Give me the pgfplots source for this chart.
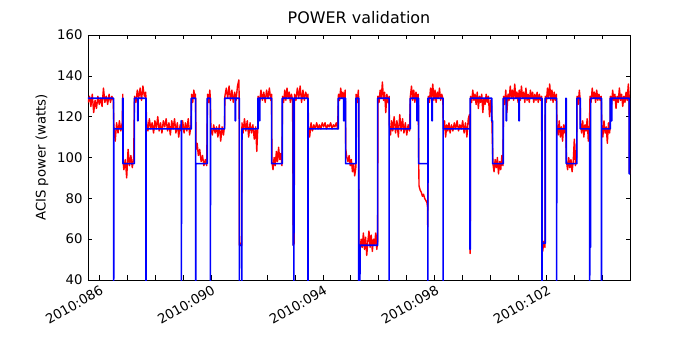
\documentclass[border=0pt]{standalone}
\usepackage{fontspec}
\setmainfont{DejaVu Sans}
\usepackage{pgfplots}
\pgfplotsset{compat=1.18}
\begin{document}
\begin{tikzpicture}
\path[use as bounding box] (-88bp,-70bp) rectangle (612bp,280bp);
\begin{axis}[
    at={(0,0)}, anchor=south west,
    scale only axis,
    width=542bp, height=245bp,
    xmin=85.607, xmax=104.98,
    ymin=40, ymax=160,
    ytick={40,60,...,160},
    xtick={86,90,...,102},
    minor xtick={87,88,89,91,92,93,95,96,97,99,100,101,103,104},
    xticklabels={2010:086,2010:090,2010:094,2010:098,2010:102},
    tick align=inside,
    major tick length=4.5bp,
    minor tick length=4.5bp,
    every tick/.style={black, line width=0.6bp},
    axis line style={line width=0.9bp},
    /pgf/number format/assume math mode=true,
    tick label style={font=\fontsize{13.3}{16}\selectfont},
    xticklabel style={rotate=30, anchor=north east, inner sep=1bp, yshift=-3bp, xshift=-1bp},
    yticklabel style={xshift=-2bp},
    title={POWER validation},
    title style={at={(axis description cs:0.5,1.0245)}, anchor=base, font=\fontsize{16}{19}\selectfont},
    ylabel={ACIS power (watts)},
    ylabel style={at={(axis description cs:-0.085,0.5)}, rotate=0, anchor=center, font=\fontsize{13.3}{16}\selectfont},
]
% measured power
\addplot[red, line width=1.4bp, line join=round] coordinates {
(85.61,127) (85.66,130) (85.71,125) (85.76,131) (85.81,122) (85.86,128) (85.91,124) (85.96,130) (86.01,126) (86.06,129)
(86.11,125) (86.16,134) (86.21,127) (86.26,130) (86.31,126) (86.36,131) (86.41,127) (86.46,130) (86.51,128)
(86.53,116) (86.58,108) (86.63,117) (86.68,112) (86.73,118) (86.78,113) (86.83,117) (86.85,131) (86.86,98)
(86.89,94) (86.94,99) (86.99,90) (87.04,104) (87.09,96) (87.14,101) (87.19,95) (87.24,100)
(87.27,130) (87.32,127) (87.37,133) (87.42,129) (87.47,134) (87.52,128) (87.57,135) (87.62,130) (87.67,132)
(87.70,118) (87.75,113) (87.80,119) (87.85,114) (87.90,117) (87.95,112) (88.00,118) (88.05,114) (88.10,120) (88.15,113)
(88.20,117) (88.25,112) (88.30,118) (88.35,115) (88.40,119) (88.45,113) (88.50,117) (88.55,111) (88.60,118) (88.65,114)
(88.70,119) (88.75,112) (88.80,117) (88.85,110) (88.90,116) (88.94,113) (88.99,118) (89.04,112) (89.09,117) (89.14,113)
(89.19,119) (89.24,111) (89.29,116)
(89.31,131) (89.35,127) (89.39,133) (89.43,129) (89.45,131)
(89.47,104) (89.51,107) (89.55,101) (89.60,104) (89.65,98) (89.70,101) (89.75,96) (89.80,99) (89.85,96)
(89.88,131) (89.92,127) (89.96,133) (89.98,129)
(90.00,114) (90.05,111) (90.10,116) (90.15,112) (90.20,115) (90.25,110) (90.30,116) (90.35,108) (90.40,115) (90.45,111) (90.49,116)
(90.50,130) (90.55,134) (90.60,129) (90.65,135) (90.70,128) (90.75,133) (90.80,127) (90.85,132) (90.90,128) (90.95,135) (91.00,138) (91.01,129)
(91.02,57) (91.07,58) (91.10,57)
(91.11,117) (91.15,112) (91.20,119) (91.25,113) (91.30,118) (91.35,110) (91.40,117) (91.45,112) (91.50,116) (91.55,109) (91.60,115) (91.64,103) (91.68,116)
(91.69,130) (91.74,127) (91.79,133) (91.84,128) (91.89,132) (91.94,127) (91.99,133) (92.04,129) (92.09,134) (92.14,128) (92.17,131)
(92.18,98) (92.22,94) (92.26,100) (92.30,96) (92.34,103) (92.38,98) (92.42,105) (92.46,99) (92.50,102) (92.54,96)
(92.56,130) (92.60,127) (92.64,133) (92.68,128) (92.72,134) (92.76,129) (92.80,132) (92.84,127) (92.88,131) (92.92,128)
(92.945,57) (92.975,58)
(92.99,131) (93.04,128) (93.09,134) (93.14,129) (93.19,135) (93.24,127) (93.29,133) (93.34,128) (93.39,132) (93.44,129) (93.47,131)
(93.49,115) (93.53,110) (93.58,117) (93.63,113) (93.68,116) (93.73,114) (93.78,117) (93.83,114) (93.88,116) (93.93,114)
(93.98,117) (94.03,115) (94.08,117) (94.13,114) (94.18,116) (94.23,115) (94.28,117) (94.33,114) (94.38,116) (94.43,115) (94.48,117) (94.53,114)
(94.56,131) (94.60,128) (94.64,134) (94.68,129) (94.72,132) (94.76,128) (94.80,133)
(94.82,104) (94.86,100) (94.90,98) (94.94,101) (94.98,96) (95.02,99) (95.06,93) (95.10,97) (95.14,91) (95.18,95)
(95.19,131) (95.23,127) (95.27,133) (95.28,129)
(95.29,58) (95.33,54) (95.37,60) (95.41,56) (95.45,63) (95.49,55) (95.53,61) (95.57,52) (95.61,59) (95.65,64)
(95.69,56) (95.73,62) (95.77,54) (95.81,60) (95.85,57) (95.89,63) (95.93,55) (95.96,59)
(95.97,130) (96.01,127) (96.05,133) (96.09,129) (96.13,137) (96.17,128) (96.21,132) (96.25,122) (96.29,131) (96.33,127) (96.37,130)
(96.38,116) (96.42,111) (96.46,118) (96.50,113) (96.55,120) (96.60,112) (96.65,118) (96.70,110) (96.75,121) (96.80,113)
(96.85,119) (96.90,112) (96.95,117) (97.00,111) (97.05,116) (97.10,113)
(97.13,130) (97.17,135) (97.21,128) (97.25,133) (97.29,127) (97.33,132) (97.37,129) (97.41,131)
(97.43,95) (97.44,86) (97.48,84) (97.52,83) (97.56,81) (97.60,82) (97.64,80) (97.68,79) (97.72,78) (97.74,76) (97.75,66)
(97.77,130) (97.81,127) (97.85,134) (97.89,129) (97.93,136) (97.97,128) (98.01,133) (98.05,127) (98.09,132) (98.13,129)
(98.17,134) (98.21,128) (98.25,131) (98.29,129)
(98.31,114) (98.35,118) (98.39,110) (98.43,116) (98.47,113) (98.51,117) (98.55,112) (98.60,116) (98.65,113) (98.70,117)
(98.75,114) (98.80,118) (98.85,113) (98.90,116) (98.95,114) (99.00,118) (99.05,112) (99.10,117) (99.15,110) (99.20,119) (99.24,121) (99.255,114)
(99.26,55) (99.265,53) (99.27,57)
(99.28,130) (99.32,127) (99.36,133) (99.40,128) (99.44,131) (99.48,126) (99.52,132) (99.56,124) (99.60,130) (99.64,127)
(99.68,131) (99.72,122) (99.76,129) (99.80,126) (99.84,131) (99.88,127) (99.92,130) (99.96,120) (100.00,128) (100.03,126)
(100.08,97) (100.12,93) (100.16,99) (100.20,95) (100.24,100) (100.28,92) (100.32,98) (100.36,94) (100.40,101) (100.44,96)
(100.46,130) (100.50,126) (100.54,133) (100.58,122) (100.62,131) (100.66,128) (100.70,135) (100.74,129) (100.78,133) (100.82,128)
(100.86,136) (100.90,129) (100.94,132) (100.98,127) (101.02,133) (101.06,128) (101.10,135) (101.14,129) (101.18,132) (101.22,127)
(101.26,134) (101.30,128) (101.34,131) (101.38,127) (101.42,133) (101.46,129) (101.50,132) (101.54,127) (101.58,131) (101.62,128)
(101.66,132) (101.70,127) (101.74,131) (101.78,128) (101.82,130)
(101.835,60) (101.86,54) (101.90,59) (101.94,56)
(101.95,130) (101.99,127) (102.03,134) (102.07,129) (102.11,136) (102.15,128) (102.19,133) (102.23,127) (102.27,132) (102.31,128) (102.35,131)
(102.37,116) (102.41,111) (102.45,118) (102.49,110) (102.53,115) (102.57,108) (102.61,116) (102.65,112) (102.68,117)
(102.71,98) (102.75,94) (102.79,100) (102.83,95) (102.87,99) (102.91,93) (102.95,98) (102.99,109) (103.03,96) (103.07,100)
(103.09,130) (103.13,126) (103.17,133) (103.20,128)
(103.21,117) (103.25,112) (103.29,118) (103.33,110) (103.37,116) (103.41,113) (103.45,119) (103.49,108) (103.53,115)
(103.55,130) (103.59,127) (103.63,134) (103.67,129) (103.71,132) (103.75,127) (103.79,133) (103.83,128) (103.87,131) (103.91,128) (103.95,130)
(103.97,116) (104.01,110) (104.05,118) (104.09,112) (104.13,115) (104.17,107) (104.21,117) (104.25,112) (104.27,115)
(104.28,130) (104.32,126) (104.36,133) (104.40,128) (104.44,131) (104.48,124) (104.52,130) (104.56,127) (104.60,134) (104.64,128)
(104.68,131) (104.72,125) (104.76,130) (104.80,127) (104.84,132) (104.88,128) (104.92,136) (104.95,130)
(104.955,93) (104.98,92)
};
% model power
\addplot[blue, line width=1.6bp, line join=round] coordinates {
(85.607,129) (86.525,129) (86.525,30) (86.53,114) (86.847,114) (86.847,129) (86.858,129) (86.858,97)
(87.262,97) (87.262,129) (87.383,129) (87.383,118) (87.395,118) (87.395,129) (87.68,129) (87.68,30) (87.685,114)
(88.94,114) (88.94,118) (88.945,118) (88.945,30) (88.95,114) (89.299,114) (89.299,129) (89.456,129) (89.456,30)
(89.461,97) (89.871,97) (89.871,129) (89.981,129) (89.981,30) (89.986,114) (90.492,114) (90.492,129)
(90.871,129) (90.871,118) (90.883,118) (90.883,129) (91.018,129) (91.018,30) (91.022,57) (91.105,57) (91.105,30)
(91.11,114) (91.683,114) (91.683,129) (91.74,129) (91.74,118) (91.75,118) (91.75,129) (92.172,129) (92.172,97)
(92.551,97) (92.551,129) (92.944,129) (92.944,57) (92.965,57) (92.965,30) (92.975,129) (93.47,129) (93.47,30)
(93.475,114) (94.553,114) (94.553,129) (94.75,129) (94.75,118) (94.76,118) (94.76,129) (94.817,129) (94.817,97)
(95.185,97) (95.185,129) (95.285,129) (95.285,30) (95.305,57) (95.325,57) (95.325,30) (95.33,57)
(95.961,57) (95.961,129) (96.368,129) (96.368,30) (96.373,114) (97.126,114) (97.126,129) (97.36,129) (97.36,118)
(97.37,118) (97.37,129) (97.426,129) (97.426,97) (97.755,97) (97.755,30) (97.76,129) (97.901,129) (97.901,118)
(97.912,118) (97.912,129) (98.298,129) (98.298,30) (98.303,114) (99.26,114) (99.26,55) (99.27,55) (99.27,129)
(100.04,129) (100.04,118) (100.07,118) (100.07,97) (100.45,97) (100.45,129) (100.557,129) (100.557,118) (100.567,118) (100.567,129)
(101.011,129) (101.011,118) (101.02,118) (101.02,129) (101.833,129) (101.833,30) (101.838,58) (101.95,58) (101.95,129)
(102.357,129) (102.357,30) (102.362,114) (102.69,114) (102.69,129) (102.70,129) (102.70,97) (103.083,97) (103.083,129)
(103.202,129) (103.202,114) (103.537,114) (103.537,30) (103.542,56) (103.57,56) (103.57,129) (103.96,129) (103.96,30)
(103.965,114) (104.274,114) (104.274,129) (104.32,129) (104.32,118) (104.33,118) (104.33,129) (104.953,129) (104.953,92)
(104.98,92)
};
\end{axis}
\end{tikzpicture}
\end{document}
